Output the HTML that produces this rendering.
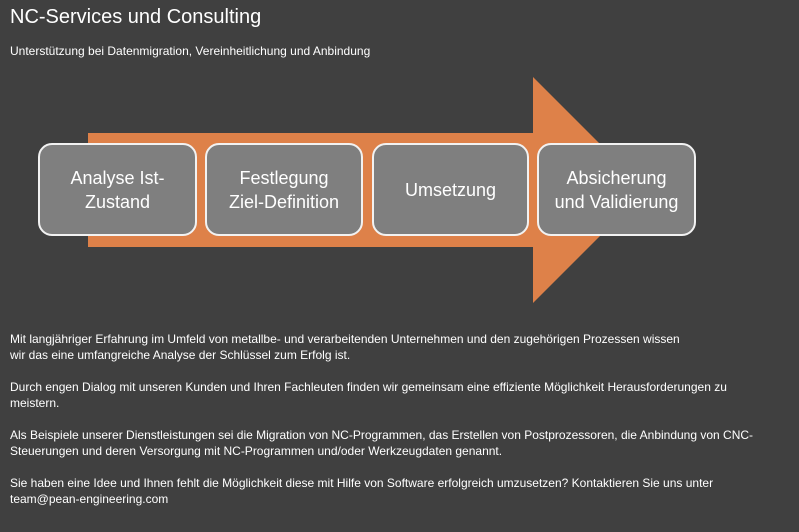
<!DOCTYPE html>
<html><head><meta charset="utf-8"><style>
body{margin:0;width:799px;height:532px;background:#404040;font-family:"Liberation Sans",sans-serif;color:#fff;position:relative;overflow:hidden}
.t{position:absolute;left:10px;top:6px;font-size:20px}
.s{position:absolute;left:10px;top:44px;font-size:12px}
.b{position:absolute;top:143px;height:89px;background:#7f7f7f;border:2px solid #f2f2f2;border-radius:14px;display:flex;align-items:center;justify-content:center;text-align:center;font-size:18px;line-height:24px}
.p{position:absolute;left:10px;font-size:12px;line-height:16px;width:760px}
</style></head><body>
<div class="t">NC-Services und Consulting</div>
<div class="s">Unterstützung bei Datenmigration, Vereinheitlichung und Anbindung</div>
<svg style="position:absolute;left:0;top:0" width="799" height="532"><polygon points="88,133 533,133 533,77 646,190 533,303 533,247 88,247" fill="#de8149"/></svg>
<div class="b" style="left:38px;width:155px">Analyse Ist-<br>Zustand</div>
<div class="b" style="left:205px;width:154px">Festlegung<br>Ziel-Definition</div>
<div class="b" style="left:372px;width:153px">Umsetzung</div>
<div class="b" style="left:537px;width:155px">Absicherung<br>und Validierung</div>
<div class="p" style="top:331px">Mit langjähriger Erfahrung im Umfeld von metallbe- und verarbeitenden Unternehmen und den zugehörigen Prozessen wissen<br>wir das eine umfangreiche Analyse der Schlüssel zum Erfolg ist.</div>
<div class="p" style="top:379px">Durch engen Dialog mit unseren Kunden und Ihren Fachleuten finden wir gemeinsam eine effiziente Möglichkeit Herausforderungen zu meistern.</div>
<div class="p" style="top:427px">Als Beispiele unserer Dienstleistungen sei die Migration von NC-Programmen, das Erstellen von Postprozessoren, die Anbindung von CNC-Steuerungen und deren Versorgung mit NC-Programmen und/oder Werkzeugdaten genannt.</div>
<div class="p" style="top:475px">Sie haben eine Idee und Ihnen fehlt die Möglichkeit diese mit Hilfe von Software erfolgreich umzusetzen? Kontaktieren Sie uns unter team@pean-engineering.com</div>
</body></html>
